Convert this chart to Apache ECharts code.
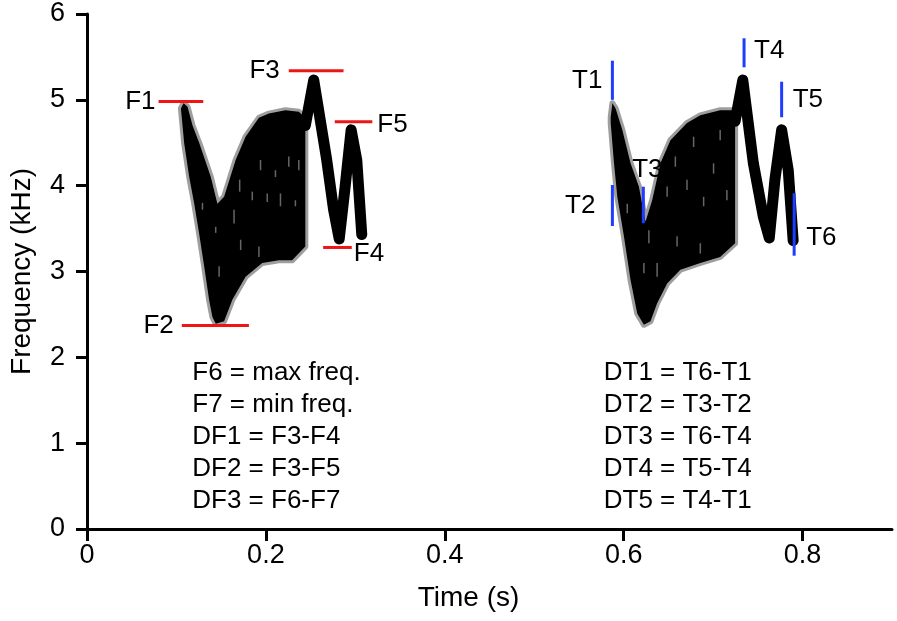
<!DOCTYPE html>
<html><head><meta charset="utf-8">
<script src="https://cdn.jsdelivr.net/npm/echarts@6/dist/echarts.min.js"></script>
<style>html,body{margin:0;padding:0;background:#fff}#chart{width:897px;height:621px}</style>
</head><body><div id="chart"></div>
<script>
// ---------- data ----------
const xTicks = [0, 0.2, 0.4, 0.6, 0.8];
const yTicks = [0, 1, 2, 3, 4, 5, 6];

// call 1 (left): outline of the dense trill part [time s, freq kHz]
const call1Top = [[0.1050,4.90],[0.1080,4.96],[0.1124,4.92],[0.1180,4.70],[0.1254,4.50],[0.1384,4.10],[0.1458,3.79],[0.1533,3.87],[0.1662,4.30],[0.1773,4.57],[0.1922,4.79],[0.2034,4.84],[0.2218,4.88],[0.2368,4.86],[0.2441,4.79]];
const call1Bottom = [[0.1050,4.90],[0.1087,4.49],[0.1143,4.10],[0.1199,3.79],[0.1254,3.44],[0.1310,3.06],[0.1365,2.67],[0.1402,2.47],[0.1440,2.39],[0.1533,2.42],[0.1625,2.67],[0.1773,2.94],[0.1959,3.10],[0.2145,3.13],[0.2293,3.13],[0.2441,3.29]];
// call 1 final modulated trace
const call1Ridge = [[0.2441,4.70],[0.2535,5.23],[0.2680,4.30],[0.2757,3.72],[0.2820,3.38],[0.2886,3.99],[0.2953,4.65],[0.3016,4.30],[0.3072,3.43]];
// call 1 light streaks inside the trill: [time, f low, f high]
const call1Streaks = [[0.1644,3.56,3.72],[0.1707,3.93,4.07],[0.1848,3.83,3.93],[0.1940,4.18,4.30],[0.2015,3.81,3.91],[0.2107,4.10,4.18],[0.2163,3.76,3.91],[0.2256,4.22,4.34],[0.2330,3.76,3.83],[0.2368,4.18,4.30],[0.1477,2.94,3.06],[0.1718,3.25,3.37],[0.1922,3.17,3.29],[0.1439,3.45,3.52],[0.1291,3.72,3.80]];

// call 2 (right)
const call2Top = [[0.5855,4.80],[0.5874,4.96],[0.5910,4.90],[0.5985,4.65],[0.6077,4.26],[0.6170,3.99],[0.6244,3.58],[0.6319,3.83],[0.6411,4.26],[0.6523,4.53],[0.6708,4.73],[0.6857,4.82],[0.7079,4.88],[0.7227,4.88],[0.7246,4.80]];
const call2Bottom = [[0.5855,4.80],[0.5855,4.73],[0.5892,4.26],[0.5929,3.87],[0.6003,3.41],[0.6077,2.90],[0.6152,2.51],[0.6226,2.38],[0.6300,2.42],[0.6374,2.63],[0.6486,2.86],[0.6634,3.02],[0.6857,3.10],[0.7079,3.17],[0.7246,3.33]];
const call2Ridge = [[0.7246,4.75],[0.7332,5.23],[0.7450,4.26],[0.7561,3.64],[0.7628,3.39],[0.7691,4.07],[0.7766,4.65],[0.7840,4.18],[0.7895,3.36]];
const call2Streaks = [[0.6282,3.33,3.48],[0.6486,3.87,3.99],[0.6578,4.22,4.34],[0.6708,3.95,4.07],[0.6782,4.45,4.57],[0.6894,3.76,3.87],[0.7005,4.14,4.26],[0.7079,4.53,4.65],[0.7154,3.83,3.95],[0.6374,2.94,3.10],[0.6597,3.29,3.41],[0.6857,3.21,3.33],[0.6226,2.98,3.10],[0.6040,3.68,3.79]];

// frequency markers: [label, t start, t end, freq]
const freqMarkers = [
  ['F1', 0.080, 0.130, 4.98],
  ['F2', 0.106, 0.181, 2.37],
  ['F3', 0.2256, 0.2868, 5.34],
  ['F4', 0.264, 0.296, 3.28],
  ['F5', 0.277, 0.319, 4.745]
];
// time markers: [label, time, f low, f high]
const timeMarkers = [
  ['T1', 0.5874, 5.00, 5.456],
  ['T2', 0.5874, 3.53, 4.008],
  ['T3', 0.6220, 3.562, 3.988],
  ['T4', 0.7346, 5.379, 5.717],
  ['T5', 0.7766, 4.797, 5.211],
  ['T6', 0.7906, 3.184, 3.911]
];
const notesLeft = ['F6 = max freq.', 'F7 = min freq.', 'DF1 = F3-F4', 'DF2 = F3-F5', 'DF3 = F6-F7'];
const notesRight = ['DT1 = T6-T1', 'DT2 = T3-T2', 'DT3 = T6-T4', 'DT4 = T5-T4', 'DT5 = T4-T1'];

// ---------- styles ----------
const FONT = '"Liberation Sans", Arial, Helvetica, sans-serif';
const RED = '#f01414';
const BLUE = '#1f3cff';
const labelPlace = {
  F1: {side: 'left', dx: -3, dy: 0},
  F2: {side: 'left', dx: -8, dy: 0},
  F3: {side: 'left', dx: -9, dy: 0},
  F4: {side: 'right', dx: 2, dy: 6},
  F5: {side: 'right', dx: 5, dy: 3},
  T1: {side: 'left', dx: -10, dy: 1},
  T2: {side: 'left', dx: -17, dy: 0},
  T3: {side: 'top', dx: 4, dy: -17},
  T4: {side: 'right', dx: 10, dy: -2},
  T5: {side: 'right', dx: 11, dy: 0},
  T6: {side: 'right', dx: 12, dy: 13}
};

function blobSeries(top, bottom) {
  const pts = top.concat(bottom.slice().reverse());
  return {
    type: 'custom', coordinateSystem: 'cartesian2d', silent: true, clip: false, z: 2,
    data: [pts[0]],
    renderItem: (params, api) => ({
      type: 'polygon',
      shape: {points: pts.map(p => api.coord(p))},
      style: {fill: '#000', stroke: 'rgba(0,0,0,0.38)', lineWidth: 6, lineJoin: 'round'}
    })
  };
}
function ridgeSeries(pts) {
  return {
    type: 'line', data: pts, showSymbol: false, symbol: 'none', silent: true, z: 3,
    lineStyle: {color: '#000', width: 11, cap: 'round', join: 'round'}
  };
}
function streakSeries(list) {
  return {
    type: 'custom', coordinateSystem: 'cartesian2d', silent: true, clip: false, z: 4,
    data: list, encode: {x: 0, y: [1, 2]},
    renderItem: (params, api) => {
      const a = api.coord([api.value(0), api.value(1)]);
      const b = api.coord([api.value(0), api.value(2)]);
      return {type: 'line', shape: {x1: a[0], y1: a[1], x2: b[0], y2: b[1]},
        style: {stroke: 'rgba(255,255,255,0.4)', lineWidth: 1.5}};
    }
  };
}

const option = {
  animation: false,
  backgroundColor: '#fff',
  grid: {left: 84, right: 5, top: 14, bottom: 92},
  xAxis: {
    type: 'value', min: 0, max: 0.9, interval: 0.2,
    name: 'Time (s)', nameLocation: 'middle', nameGap: 55,
    nameTextStyle: {fontSize: 28, color: '#000', fontFamily: FONT, padding: [0, 42, 0, 0]},
    axisLine: {show: true, lineStyle: {color: '#000', width: 3}},
    axisTick: {show: true, customValues: xTicks, length: 12, lineStyle: {color: '#000', width: 3}},
    axisLabel: {customValues: xTicks, fontSize: 27, color: '#000', fontFamily: FONT, margin: 13},
    splitLine: {show: false}
  },
  yAxis: {
    type: 'value', min: 0, max: 6, interval: 1,
    name: 'Frequency (kHz)', nameLocation: 'middle', nameGap: 51, nameRotate: 90,
    nameTextStyle: {fontSize: 28, color: '#000', fontFamily: FONT},
    axisLine: {show: true, lineStyle: {color: '#000', width: 3}},
    axisTick: {show: true, customValues: yTicks, length: 11, lineStyle: {color: '#000', width: 3}},
    axisLabel: {customValues: yTicks, fontSize: 27, color: '#000', fontFamily: FONT, margin: 22},
    splitLine: {show: false}
  },
  series: [
    blobSeries(call1Top, call1Bottom),
    ridgeSeries(call1Ridge),
    streakSeries(call1Streaks),
    blobSeries(call2Top, call2Bottom),
    ridgeSeries(call2Ridge),
    streakSeries(call2Streaks),
    {
      type: 'custom', coordinateSystem: 'cartesian2d', silent: true, clip: false, z: 5,
      data: freqMarkers.map(m => [m[1], m[2], m[3]]),
      encode: {x: [0, 1], y: 2},
      renderItem: (params, api) => {
        const m = freqMarkers[params.dataIndex];
        const a = api.coord([m[1], m[3]]);
        const b = api.coord([m[2], m[3]]);
        const pl = labelPlace[m[0]];
        const left = pl.side === 'left';
        return {type: 'group', children: [
          {type: 'line', shape: {x1: a[0], y1: a[1], x2: b[0], y2: b[1]}, style: {stroke: RED, lineWidth: 3}},
          {type: 'text', style: {text: m[0], x: (left ? a[0] : b[0]) + pl.dx, y: a[1] + pl.dy,
            align: left ? 'right' : 'left', verticalAlign: 'middle', font: '26px ' + FONT, fill: '#000'}}
        ]};
      }
    },
    {
      type: 'custom', coordinateSystem: 'cartesian2d', silent: true, clip: false, z: 5,
      data: timeMarkers.map(m => [m[1], m[2], m[3]]),
      encode: {x: 0, y: [1, 2]},
      renderItem: (params, api) => {
        const m = timeMarkers[params.dataIndex];
        const a = api.coord([m[1], m[2]]);
        const b = api.coord([m[1], m[3]]);
        const pl = labelPlace[m[0]];
        let tx, ty, align;
        if (pl.side === 'top') { tx = a[0] + pl.dx; ty = b[1] + pl.dy; align = 'center'; }
        else { tx = a[0] + pl.dx; ty = (a[1] + b[1]) / 2 + pl.dy; align = pl.side === 'left' ? 'right' : 'left'; }
        return {type: 'group', children: [
          {type: 'line', shape: {x1: a[0], y1: a[1], x2: b[0], y2: b[1]}, style: {stroke: BLUE, lineWidth: 3}},
          {type: 'text', style: {text: m[0], x: tx, y: ty, align: align, verticalAlign: 'middle', font: '26px ' + FONT, fill: '#000'}}
        ]};
      }
    },
    {
      type: 'custom', coordinateSystem: 'cartesian2d', silent: true, clip: false, z: 5,
      data: [[0.1177, 1.814], [0.5777, 1.814]],
      renderItem: (params, api) => {
        const lines = params.dataIndex === 0 ? notesLeft : notesRight;
        const p = api.coord([api.value(0), api.value(1)]);
        return {type: 'group', children: lines.map((t, i) => ({
          type: 'text', style: {text: t, x: p[0], y: p[1] + i * 32, align: 'left', verticalAlign: 'middle', font: '26px ' + FONT, fill: '#000'}
        }))};
      }
    }
  ]
};
const chart = echarts.init(document.getElementById('chart'), null, {renderer: 'canvas'});
chart.setOption(option);
</script>
</body></html>
